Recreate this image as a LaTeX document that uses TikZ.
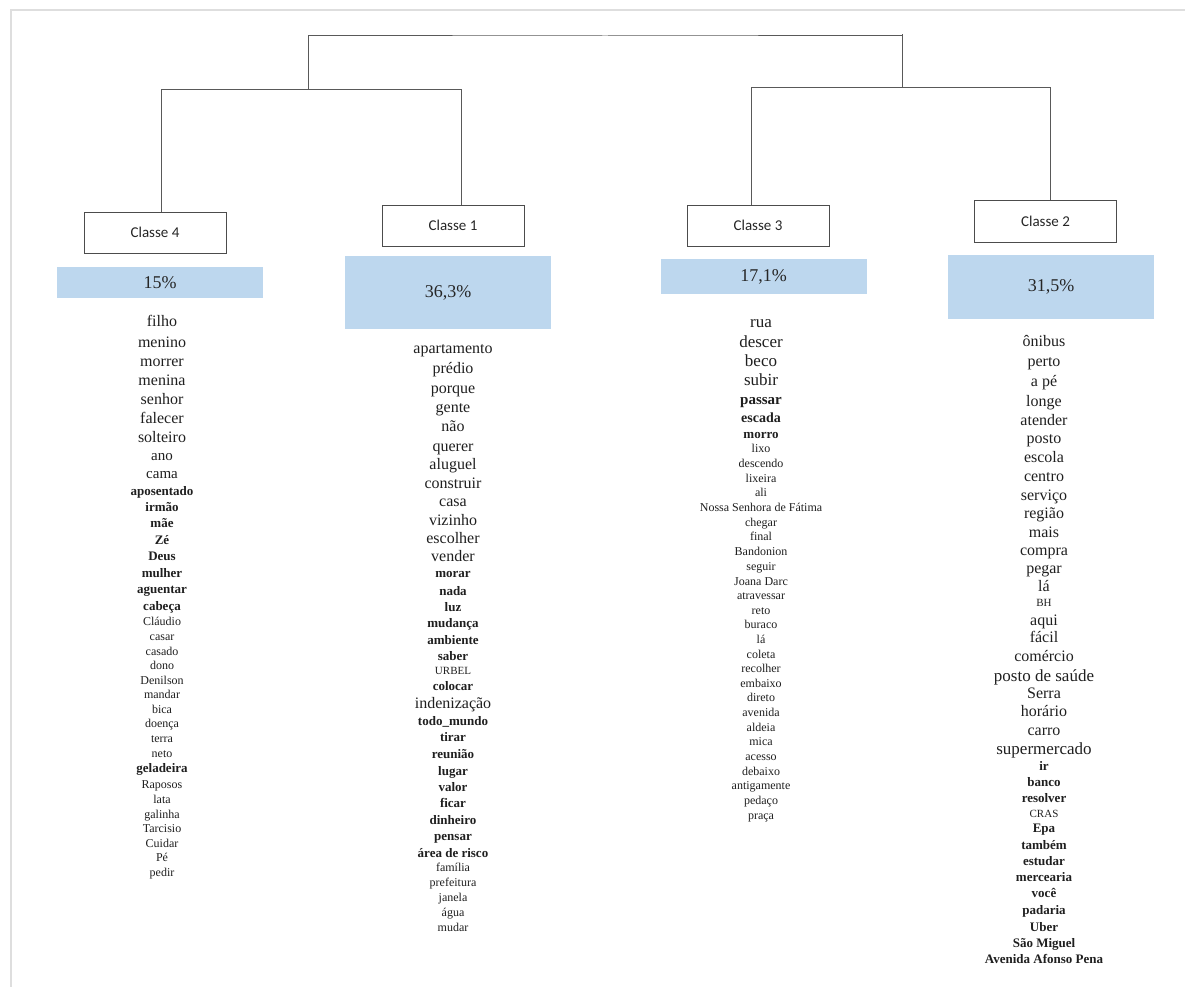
\documentclass[tikz,border=0pt]{standalone}
\usepackage{fontspec}
\setmainfont{Liberation Serif}
\newfontfamily\classfont{Carlito}
\usepackage{xcolor}
\definecolor{pctblue}{HTML}{BDD7EE}
\definecolor{framegray}{HTML}{DEDEDE}

\begin{document}
\begin{tikzpicture}[
    x=1pt, y=-1pt,
    classbox/.style={rectangle, draw=black!70, line width=0.8pt, fill=white, minimum width=142pt, minimum height=41pt, align=center, font=\classfont\fontsize{15}{15}\selectfont, text=black!85},
    pctbox/.style={rectangle, fill=pctblue, minimum width=206pt, inner sep=0pt, font=\fontsize{18}{18}\selectfont, text=black!85},
    link/.style={draw=black!65, line width=1pt},
    word/.style={anchor=base, inner sep=0pt, text=black!88},
]
    \useasboundingbox (0,0) rectangle (1185,987);
    \draw[framegray, line width=2pt] (1185,10.5) -- (10.5,10.5) -- (10.5,987);

    \node[classbox] (c4) at (155,232.5) {Classe 4};
    \node[classbox] (c1) at (453,225.5) {Classe 1};
    \node[classbox] (c3) at (758,225.5) {Classe 3};
    \node[classbox, minimum height=42pt] (c2) at (1045.5,221) {Classe 2};

    \node[pctbox, minimum height=31pt] (p4) at (160,282.5) {15\%};
    \node[pctbox, minimum height=73pt] (p1) at (448,292.5) {36,3\%};
    \node[pctbox, minimum height=35pt] (p3) at (763.5,276.5) {17,1\%};
    \node[pctbox, minimum height=64pt] (p2) at (1051,287) {31,5\%};

    \coordinate (top) at (605,36);
    \coordinate (jL) at (308,90);
    \coordinate (jR) at (902,88);
    \coordinate (s4) at (161,90);
    \coordinate (s1) at (461,90);
    \coordinate (s3) at (751,88);
    \coordinate (s2) at (1050,88);

    \draw[link] (jL) |- (top) -| (jR);
    \draw[link] (jR |- top) -- ++(0,-2);
    \draw[link] (s4 |- c4.north) -- (s4) -- (s1) -- (s1 |- c1.north);
    \draw[link] (s3 |- c3.north) -- (s3) -- (s2) -- (s2 |- c2.north);

    \foreach \yy/\ss/\fw/\txt [count=\i] in {322/16/r/filho, 343/16/r/menino, 362/16/r/morrer, 381/16/r/menina, 400/16/r/senhor, 419/16/r/falecer, 438/16/r/solteiro, 456/15/r/ano, 474/15/r/cama, 492/13/b/aposentado, 508/13/b/irmão, 524/13/b/mãe, 541/13/b/Zé, 557/13/b/Deus, 574/13/b/mulher, 590/13/b/aguentar, 607/13/b/cabeça, 622/12/r/Cláudio, 637/12/r/casar, 652/12/r/casado, 666/12/r/dono, 681/12/r/Denilson, 695/12/r/mandar, 710/12/r/bica, 724/12/r/doença, 739/12/r/terra, 754/12/r/neto, 769/13/b/geladeira, 785/12/r/Raposos, 800/12/r/lata, 815/12/r/galinha, 829/12/r/Tarcisio, 844/12/r/Cuidar, 858/12/r/Pé, 873/12/r/pedir}
        \node[word, font=\fontsize{\ss}{\ss}\selectfont\if b\fw\bfseries\fi] (w4-\i) at (162,{\yy+0.3*\ss}) {\txt};

    \foreach \yy/\ss/\fw/\txt [count=\i] in {349/16/r/apartamento, 369/16/r/prédio, 389/16/r/porque, 408/16/r/gente, 427/16/r/não, 447/16/r/querer, 465/16/r/aluguel, 484/16/r/construir, 502/16/r/casa, 521/16/r/vizinho, 539/16/r/escolher, 557/16/r/vender, 574/13/b/morar, 592/13/b/nada, 608/13/b/luz, 624/13/b/mudança, 641/13/b/ambiente, 657/13/b/saber, 671/11/r/URBEL, 687/13/b/colocar, 704/16/r/indenização, 722/13/b/todo\_mundo, 738/13/b/tirar, 755/13/b/reunião, 772/13/b/lugar, 788/13/b/valor, 804/13/b/ficar, 821/13/b/dinheiro, 837/13/b/pensar, 854/13/b/área de risco, 868/12/r/família, 883/12/r/prefeitura, 898/12/r/janela, 913/12/r/água, 928/12/r/mudar}
        \node[word, font=\fontsize{\ss}{\ss}\selectfont\if b\fw\bfseries\fi] (w1-\i) at (453,{\yy+0.3*\ss}) {\txt};

    \foreach \yy/\ss/\fw/\txt [count=\i] in {322/17/r/rua, 342/17/r/descer, 361/17/r/beco, 380/17/r/subir, 400/15/b/passar, 418/14/b/escada, 435/13/b/morro, 449/12/r/lixo, 464/12/r/descendo, 479/12/r/lixeira, 493/12/r/ali, 508/12/r/Nossa Senhora de Fátima, 523/12/r/chegar, 537/12/r/final, 552/12/r/Bandonion, 567/12/r/seguir, 582/12/r/Joana Darc, 596/12/r/atravessar, 611/12/r/reto, 625/12/r/buraco, 640/12/r/lá, 655/12/r/coleta, 669/12/r/recolher, 684/12/r/embaixo, 698/12/r/direto, 713/12/r/avenida, 728/12/r/aldeia, 742/12/r/mica, 757/12/r/acesso, 772/12/r/debaixo, 786/12/r/antigamente, 801/12/r/pedaço, 816/12/r/praça}
        \node[word, font=\fontsize{\ss}{\ss}\selectfont\if b\fw\bfseries\fi] (w3-\i) at (761,{\yy+0.3*\ss}) {\txt};

    \foreach \yy/\ss/\fw/\txt [count=\i] in {342/16/r/ônibus, 362/16/r/perto, 382/16/r/a pé, 402/16/r/longe, 421/16/r/atender, 439/16/r/posto, 458/16/r/escola, 477/16/r/centro, 496/16/r/serviço, 514/16/r/região, 533/16/r/mais, 551/16/r/compra, 569/16/r/pegar, 587/16/r/lá, 603/11/r/BH, 621/16/r/aqui, 638/16/r/fácil, 657/16/r/comércio, 676/17/r/posto de saúde, 694/16/r/Serra, 712/16/r/horário, 731/16/r/carro, 749/17/r/supermercado, 767/13/b/ir, 783/13/b/banco, 799/13/b/resolver, 814/11/r/CRAS, 829/13/b/Epa, 846/13/b/também, 862/13/b/estudar, 878/13/b/mercearia, 894/13/b/você, 911/13/b/padaria, 928/13/b/Uber, 944/13/b/São Miguel, 960/13/b/Avenida Afonso Pena}
        \node[word, font=\fontsize{\ss}{\ss}\selectfont\if b\fw\bfseries\fi] (w2-\i) at (1044,{\yy+0.3*\ss}) {\txt};
\end{tikzpicture}
\end{document}
